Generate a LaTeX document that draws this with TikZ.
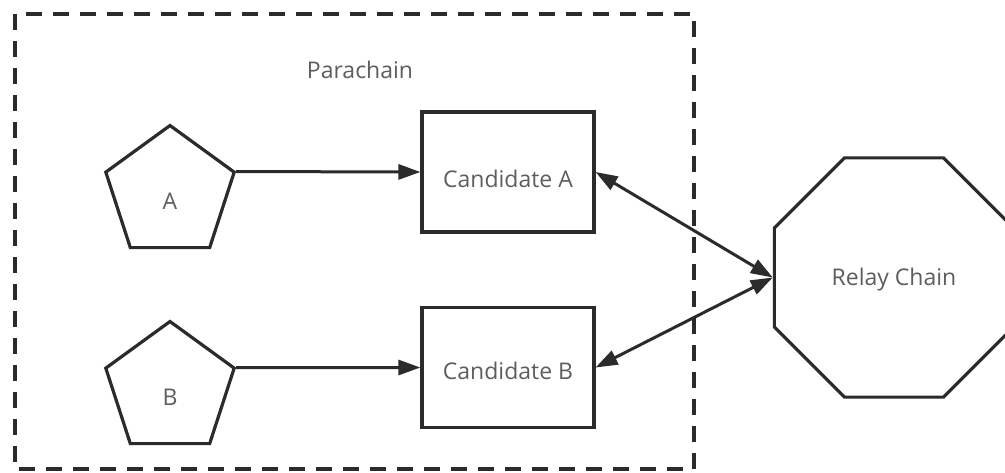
\documentclass[tikz,border=0pt]{standalone}
\usepackage{fontspec}
\setmainfont{Open Sans}
\usetikzlibrary{shapes.geometric,arrows.meta}
\definecolor{ink}{HTML}{2B2B2B}
\definecolor{txt}{HTML}{5E5E5E}
\tikzset{
  every node/.style={font=\fontsize{23}{27}\selectfont, text=txt},
  outline/.style={draw=ink, line width=3.2pt},
  penta/.style={outline, regular polygon, regular polygon sides=5, minimum size=135pt, inner sep=0pt},
  octa/.style={outline, regular polygon, regular polygon sides=8, minimum size=259pt, inner sep=0pt},
  cand/.style={outline, rectangle, minimum width=172pt, minimum height=120pt, inner sep=0pt},
  tip/.tip={Triangle[length=22pt,width=15pt]},
  link/.style={draw=ink, line width=3pt, -tip},
  duplex/.style={draw=ink, line width=3pt, tip-tip},
  frame/.style={draw=ink, line width=3.4pt, dash pattern=on 16pt off 11pt}
}
\begin{document}
\begin{tikzpicture}[x=1pt,y=-1pt]
  \useasboundingbox (0,0) rectangle (1005,472);
  \clip (0,0) rectangle (1005,472);
  \fill[white] (0,0) rectangle (1005,472);

  % parachain boundary
  \draw[frame] (15,14) rectangle (694,469);
  \node (para) at (360,70) {Parachain};

  % collators
  \node[penta, label={[yshift=-8pt]center:A}] (pA) at (170,193) {};
  \node[penta, label={[yshift=-8pt]center:B}] (pB) at (170,389) {};

  % candidate blocks
  \node[cand, label={[yshift=-7pt]center:Candidate A}] (cA) at (508,172) {};
  \node[cand, label={[yshift=-3pt]center:Candidate B}] (cB) at (508,367.5) {};

  % relay chain
  \node[octa, label={[yshift=-2pt]center:Relay Chain}] (relay) at (894,277.5) {};

  % connectors
  \draw[link] (pA.corner 5) -- (cA.west);
  \draw[link] (pB.corner 5) -- (cB.west);
  \draw[duplex] (cA.east) -- (relay.west);
  \draw[duplex] (cB.east) -- (relay.west);
\end{tikzpicture}
\end{document}
